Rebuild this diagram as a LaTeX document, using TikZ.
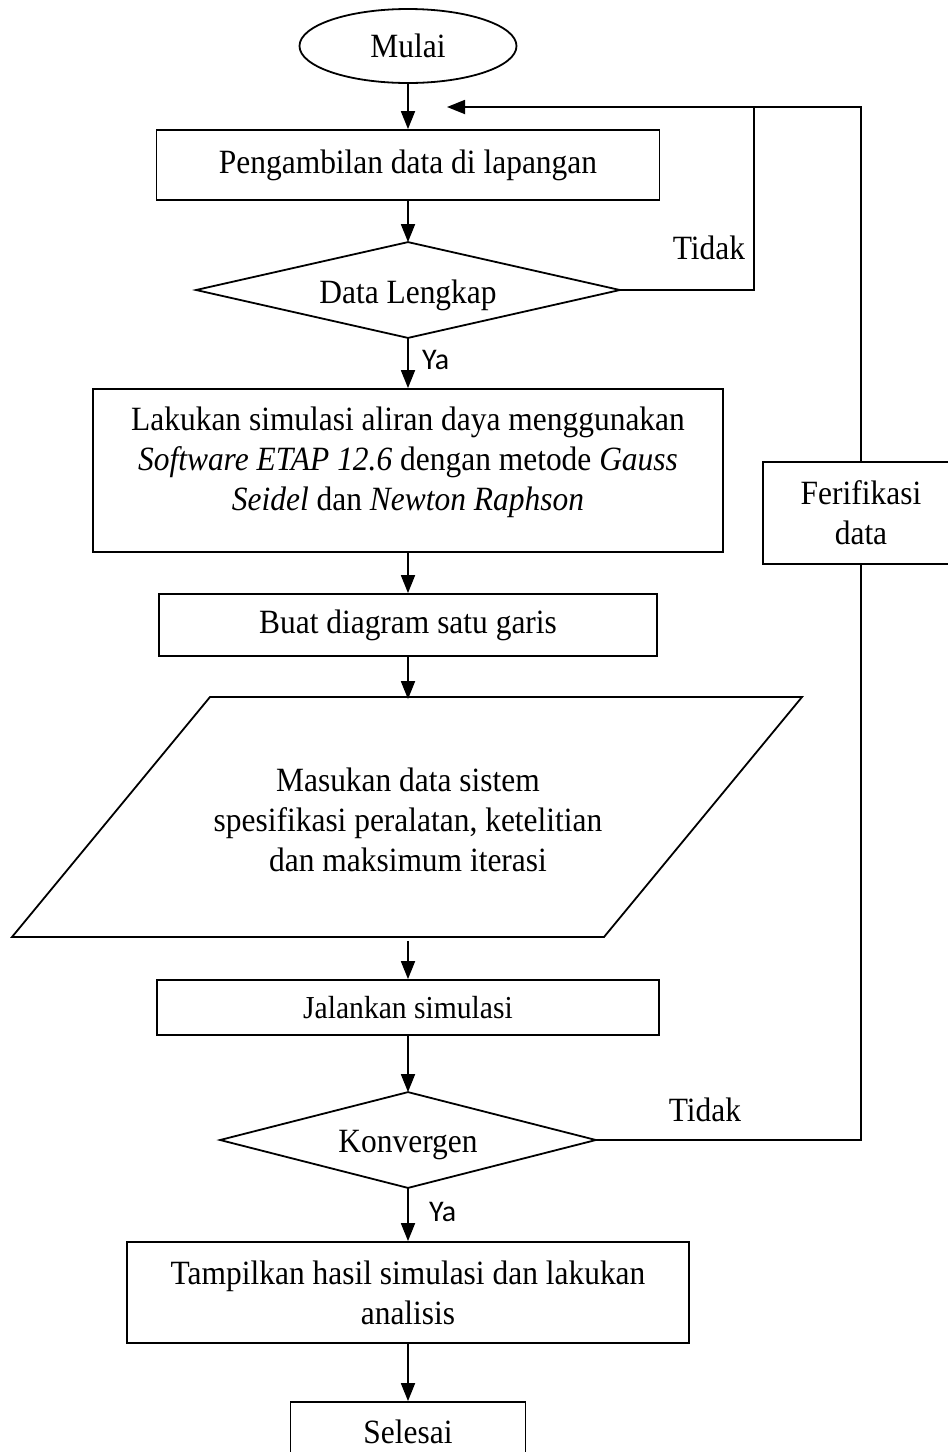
\documentclass[tikz,border=0pt]{standalone}
\usepackage{fontspec}
\setmainfont{Liberation Serif}[FakeStretch=0.925]
\newfontfamily\yafont{Carlito}
\usetikzlibrary{shapes.geometric,arrows.meta}
\newcommand\lowr[1]{\vphantom{#1}\raisebox{-5pt}{\smash{#1}}}
\begin{document}
\begin{tikzpicture}[x=1pt,y=-1pt,line width=1.8pt,
  every node/.style={font=\fontsize{34}{40}\selectfont},
  box/.style={draw,rectangle,inner sep=0pt,align=center},
  dec/.style={rectangle,inner sep=0pt},
  arr/.style={-{Triangle[length=18pt,width=14pt]}},
  ya/.style={font=\yafont\fontsize{30}{32}\selectfont,anchor=west},
  small/.style={font=\fontsize{32}{36}\selectfont}]
\clip (0,0) rectangle (948,1452);
% nodes
\node[draw,ellipse,minimum width=217,minimum height=74,inner sep=0pt] (start) at (408,46) {Mulai};
\node[box,minimum width=503,minimum height=70] (b1) at (408,165) {Pengambilan data di lapangan};
\node[dec,minimum width=422,minimum height=94] (d1) at (408,290) {\lowr{Data Lengkap}};
\draw (d1.north) -- (d1.east) -- (d1.south) -- (d1.west) -- cycle;
\node[box,minimum width=630,minimum height=163] (b2) at (408,470.5) {};
\node[align=center,inner sep=0pt] (b2t) at (408,462) {Lakukan simulasi aliran daya menggunakan\\
  \textit{Software ETAP 12.6} dengan metode \textit{Gauss}\\
  \textit{Seidel} dan \textit{Newton Raphson}};
\node[box,minimum width=498,minimum height=62] (b3) at (408,625) {Buat diagram satu garis};
\node[align=center,inner sep=0pt,minimum height=240] (inp) at (408,820) {Masukan data sistem\\spesifikasi peralatan, ketelitian\\dan maksimum iterasi};
\draw (210,697) -- (802,697) -- (604,937) -- (12,937) -- cycle;
\node[box,small,minimum width=502,minimum height=55] (b4) at (408,1007.5) {Jalankan simulasi};
\node[dec,minimum width=374,minimum height=94] (d2) at (408,1140) {\lowr{Konvergen}};
\draw (d2.north) -- (d2.east) -- (d2.south) -- (d2.west) -- cycle;
\node[box,minimum width=562,minimum height=101] (b5) at (408,1292.5) {Tampilkan hasil simulasi dan lakukan\\analisis};
\node[box,minimum width=235,minimum height=60] (fin) at (408,1432) {Selesai};
\node[box,minimum width=196,minimum height=102] (ver) at (861,513) {Ferifikasi\\data};
% labels
\node[ya] (ya1) at (418,360) {Ya};
\node[ya] (ya2) at (425,1212) {Ya};
\node (t1) at (709,248) {Tidak};
\node (t2) at (705,1110) {Tidak};
% coordinates
\coordinate (j1) at (754,107);
\coordinate (ret) at (447,107);
% connectors
\draw[arr] (start) -- (b1);
\draw[arr] (b1) -- (d1.north);
\draw[arr] (d1.south) -- (b2);
\draw[arr] (b2) -- (b3);
\draw[arr] (b3) -- (inp);
\draw[arr] (inp) -- (b4);
\draw[arr] (b4) -- (d2.north);
\draw[arr] (d2.south) -- (b5);
\draw[arr] (b5) -- (fin);
\draw (d1.east) -| (j1);
\draw[arr] (j1) -- (ret);
\draw (j1) -| (ver.north);
\draw (d2.east) -| (ver.south);
\end{tikzpicture}
\end{document}
